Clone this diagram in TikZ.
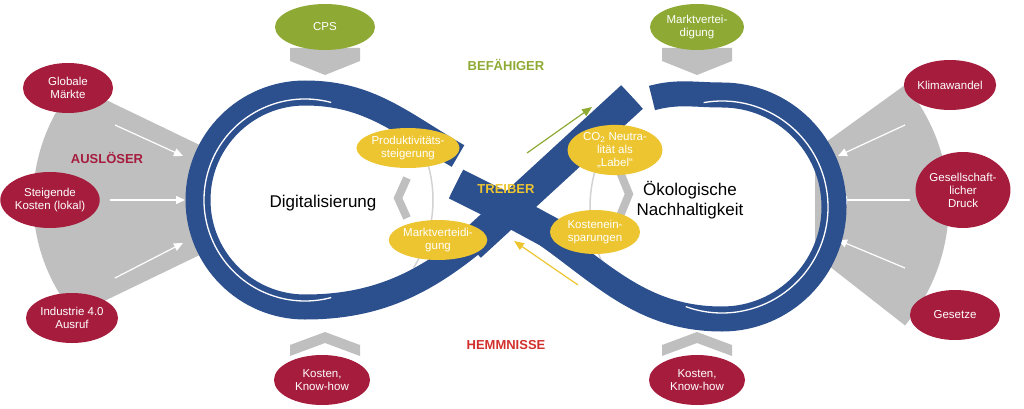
\documentclass[tikz,border=0pt]{standalone}
\usepackage{fontspec}
\setmainfont{Liberation Sans}
\usetikzlibrary{arrows.meta,shapes.geometric}
\definecolor{bl}{HTML}{2C4F8E}
\definecolor{ye}{HTML}{EDC530}
\definecolor{gr}{HTML}{8EAA34}
\definecolor{rd}{HTML}{A61C3D}
\definecolor{gy}{HTML}{BFBFBF}
\definecolor{hd}{HTML}{D2302C}
\begin{document}
\begin{tikzpicture}[x=1pt,y=1pt,
  band/.style={line width=25pt,bl},
  sband/.style={line width=32pt,bl},
  ell/.style={ellipse,minimum width=#1,inner sep=0pt,align=center,text=white,font=\fontsize{11.5}{13}\selectfont},
  yel/.style={ell=#1,fill=ye,minimum height=40pt},
  grn/.style={ell=#1,fill=gr,minimum height=46pt},
  red/.style={ell=#1,fill=rd,minimum height=50pt},
  warr/.style={white,line width=1.2pt,-{Triangle[length=9pt,width=8pt]}},
  chev/.style={fill=gy,draw=none},
  lbl/.style={font=\fontsize{17}{20}\selectfont,align=center}]
\useasboundingbox (0,0) rectangle (1024,408);
% fans
\fill[gy] (210,258) -- (75,323) arc[start angle=140,end angle=220,radius=179] -- (210,158) -- cycle;
\fill[gy] (815,258) -- (905,323) arc[start angle=40,end angle=-40,radius=187] -- (815,153) -- cycle;
\draw[warr] (115,283) -- (183,252);
\draw[warr] (110,208) -- (185,208);
\draw[warr] (115,130) -- (183,165);
\draw[warr] (905,283) -- (838,252);
\draw[warr] (910,208) -- (838,208);
\draw[warr] (905,140) -- (838,168);
% thin gray arcs
\draw[gy!70,line width=1.5pt] (305,208) ++(-32:128) arc[start angle=-32,end angle=32,radius=128];
\draw[gy!70,line width=1.5pt] (722,201) ++(155:132) arc[start angle=155,end angle=205,radius=132];
% bands
\draw[band] (458,252) to[out=150,in=0] (305,315) arc[start angle=90,end angle=270,radius=107] to[out=0,in=222] (510,197) -- (632,311);
\draw[sband] (470,162) -- (632,311);
\draw[white,line width=1.3pt] (305,208) ++(75:101) arc[start angle=75,end angle=285,radius=101];
\draw[band] (652,310) to[out=15,in=180] (722,313) arc[start angle=90,end angle=-90,radius=112] to[out=180,in=-30] (510,197) -- (456,224);
\draw[sband] (560,170) -- (510,197) -- (456,224);
\draw[white,line width=1.3pt] (722,201) ++(100:106) arc[start angle=100,end angle=-110,radius=106];
\draw[white,line width=3pt] (640,324) -- (646,298);
% inner chevrons
\draw[gy,line width=8pt] (407,230) -- (398,210) -- (407,190);
\draw[gy,line width=8pt] (620,236) -- (629,214) -- (620,192);
% yellow ellipses
\node[yel=92pt] (p) at (408,260) {Produktivitäts-\\steigerung};
\node[yel=86pt] (m) at (438,168) {Marktverteidi-\\gung};
\node[yel=95pt,minimum height=50pt] (c) at (615,258) {CO\textsubscript{2} Neutra-\\lität als\\„Label“};
\node[yel=90pt,minimum height=44pt] (k) at (595,176) {Kostenein-\\sparungen};
% arrows
\draw[gr,line width=1.2pt,-{Triangle[length=10pt,width=8pt]}] (527,255) -- (592,301);
\draw[ye,line width=1.2pt,-{Triangle[length=10pt,width=8pt]}] (578,123) -- (514,167);
% labels
\node[lbl] (d) at (323,205) {Digitalisierung};
\node[lbl] (n) at (690,208) {Ökologische\\Nachhaltigkeit};
\node[font=\bfseries\fontsize{13}{15}\selectfont,text=ye] (t) at (506,219) {TREIBER};
\node[font=\bfseries\fontsize{13}{15}\selectfont,text=gr] (b) at (506,343) {BEFÄHIGER};
\node[font=\bfseries\fontsize{13}{15}\selectfont,text=hd] (h) at (506,63) {HEMMNISSE};
\node[font=\bfseries\fontsize{13}{15}\selectfont,text=rd] (a) at (107,250) {AUSLÖSER};
% top/bottom chevrons
\foreach \cx in {325,697}{
 \fill[chev] (\cx-35,360) -- (\cx+35,360) -- (\cx+35,347) -- (\cx,333) -- (\cx-35,347) -- cycle;
 \fill[chev] (\cx-35,52) -- (\cx-35,63) -- (\cx,76) -- (\cx+35,63) -- (\cx+35,52) -- (\cx,65) -- cycle;}
\node[grn=100pt] (cps) at (325,381) {CPS};
\node[grn=94pt] (mv) at (697,381) {Marktvertei-\\digung};
\node[red=96pt] (k1) at (322,28) {Kosten,\\Know-how};
\node[red=96pt] (k2) at (697,28) {Kosten,\\Know-how};
% side red ellipses
\node[red=90pt] (g) at (68,320) {Globale\\Märkte};
\node[red=96pt,minimum height=56pt] (s) at (50,208) {Steigende\\Kosten (lokal)};
\node[red=92pt] (i) at (72,90) {Industrie 4.0\\Ausruf};
\node[red=92pt] (kl) at (950,323) {Klimawandel};
\node[red=80pt,minimum height=76pt] (ge) at (963,218) {Gesellschaft-\\licher\\Druck};
\node[red=90pt] (gs) at (955,93) {Gesetze};
\end{tikzpicture}
\end{document}
